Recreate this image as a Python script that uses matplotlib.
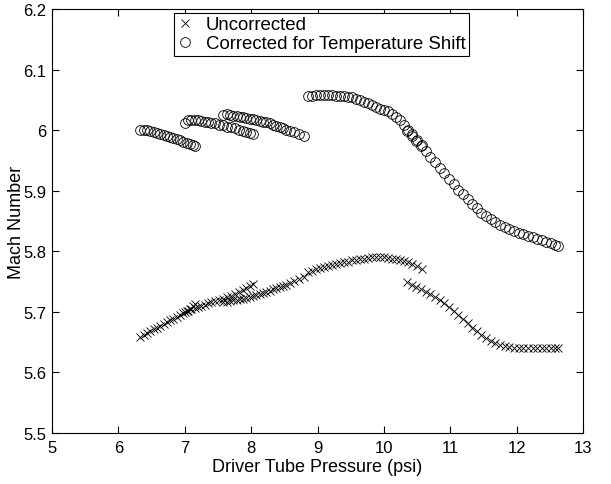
import numpy as np
import matplotlib.pyplot as plt

plt.rcParams['font.family'] = ['Liberation Sans', 'DejaVu Sans']

# run A
xa = [6.33, 6.38, 6.43, 6.48, 6.53, 6.58, 6.63, 6.68, 6.73, 6.78, 6.83, 6.88,
      6.93, 6.98, 7.03, 7.08, 7.12, 7.16]
unc_a = [5.659, 5.662, 5.665, 5.668, 5.671, 5.674, 5.677, 5.680, 5.683, 5.686,
         5.689, 5.692, 5.695, 5.698, 5.702, 5.705, 5.709, 5.713]
cor_a = [6.001, 6.001, 6.000, 5.999, 5.997, 5.996, 5.994, 5.992, 5.991, 5.989,
         5.987, 5.985, 5.983, 5.981, 5.979, 5.977, 5.975, 5.974]

# run B
xb = [7.00, 7.05, 7.10, 7.15, 7.20, 7.25, 7.30, 7.35, 7.40, 7.46, 7.52, 7.58,
      7.64, 7.70, 7.76, 7.82, 7.88, 7.93, 7.98, 8.03]
unc_b = [5.700, 5.702, 5.704, 5.706, 5.708, 5.710, 5.712, 5.714, 5.716, 5.718,
         5.720, 5.722, 5.724, 5.727, 5.730, 5.733, 5.736, 5.739, 5.742, 5.746]
cor_b = [6.012, 6.016, 6.017, 6.017, 6.016, 6.015, 6.014, 6.013, 6.012, 6.011,
         6.009, 6.008, 6.006, 6.005, 6.003, 6.001, 5.999, 5.997, 5.995, 5.993]

# run C
xc = [7.58, 7.63, 7.68, 7.73, 7.78, 7.83, 7.88, 7.93, 7.98, 8.03, 8.08, 8.13,
      8.18, 8.23, 8.28, 8.33, 8.38, 8.43, 8.48, 8.53, 8.59, 8.65, 8.72, 8.80]
unc_c = [5.716, 5.717, 5.718, 5.719, 5.720, 5.721, 5.722, 5.723, 5.724, 5.726,
         5.728, 5.729, 5.731, 5.733, 5.735, 5.737, 5.739, 5.741, 5.743, 5.745,
         5.748, 5.751, 5.754, 5.757]
cor_c = [6.025, 6.026, 6.025, 6.024, 6.023, 6.022, 6.021, 6.020, 6.019, 6.018,
         6.017, 6.015, 6.014, 6.013, 6.011, 6.009, 6.007, 6.005, 6.003, 6.001,
         5.999, 5.997, 5.994, 5.991]

# run D, first part
xd1 = [8.86, 8.92, 8.98, 9.04, 9.10, 9.16, 9.22, 9.28, 9.34, 9.40, 9.46, 9.52,
       9.58, 9.64, 9.70, 9.76, 9.82, 9.88, 9.94, 10.00, 10.06, 10.12, 10.18,
       10.24, 10.30, 10.36, 10.43, 10.50, 10.57]
unc_d1 = [5.766, 5.768, 5.770, 5.772, 5.774, 5.776, 5.777, 5.779, 5.780, 5.782,
          5.783, 5.785, 5.786, 5.787, 5.788, 5.789, 5.790, 5.790, 5.790, 5.790,
          5.789, 5.788, 5.787, 5.786, 5.784, 5.782, 5.779, 5.775, 5.770]
cor_d1 = [6.057, 6.057, 6.058, 6.058, 6.058, 6.058, 6.058, 6.057, 6.057, 6.056,
          6.055, 6.054, 6.052, 6.050, 6.047, 6.044, 6.041, 6.038, 6.035, 6.033,
          6.031, 6.027, 6.022, 6.016, 6.009, 6.001, 5.993, 5.984, 5.975]

# run D, second part
xd2 = [10.35, 10.42, 10.49, 10.56, 10.63, 10.70, 10.77, 10.84, 10.91, 10.98,
       11.05, 11.12, 11.19, 11.26, 11.33, 11.40, 11.47, 11.54, 11.61, 11.68,
       11.75, 11.82, 11.89, 11.96, 12.03, 12.10, 12.17, 12.24, 12.31, 12.38,
       12.45, 12.52, 12.58, 12.63]
unc_d2 = [5.749, 5.745, 5.741, 5.737, 5.733, 5.729, 5.725, 5.720, 5.714, 5.708,
          5.702, 5.695, 5.688, 5.681, 5.674, 5.668, 5.662, 5.657, 5.652, 5.648,
          5.645, 5.643, 5.642, 5.641, 5.641, 5.640, 5.641, 5.641, 5.640, 5.641,
          5.641, 5.640, 5.641, 5.641]
cor_d2 = [5.999, 5.991, 5.982, 5.974, 5.965, 5.956, 5.947, 5.938, 5.929, 5.920,
          5.911, 5.902, 5.894, 5.886, 5.878, 5.871, 5.864, 5.858, 5.853, 5.848,
          5.844, 5.840, 5.837, 5.834, 5.831, 5.829, 5.826, 5.824, 5.821, 5.819,
          5.816, 5.813, 5.811, 5.809]

runs_x = [xa, xb, xc, xd1, xd2]
runs_unc = [unc_a, unc_b, unc_c, unc_d1, unc_d2]
runs_cor = [cor_a, cor_b, cor_c, cor_d1, cor_d2]

x_all = np.concatenate(runs_x)
unc_all = np.concatenate(runs_unc)
cor_all = np.concatenate(runs_cor)

fig = plt.figure(figsize=(6.11, 4.85), dpi=100)
ax = fig.add_axes([52 / 611, 1 - 434 / 485, 531 / 611, 424 / 485])

ax.plot(x_all, unc_all, 'x', color='k', markersize=5.5, markeredgewidth=0.6,
        label='Uncorrected')
ax.plot(x_all, cor_all, 'o', color='k', markerfacecolor='none', markersize=7,
        markeredgewidth=0.6, label='Corrected for Temperature Shift')

ax.set_xlim(5, 13)
ax.set_ylim(5.5, 6.2)
ax.set_xticks(np.arange(5, 14, 1))
ax.set_yticks(np.arange(5.5, 6.21, 0.1))
ax.set_yticklabels(['5.5', '5.6', '5.7', '5.8', '5.9', '6', '6.1', '6.2'])
ax.tick_params(direction='in', top=True, right=True, labelsize=12, length=5)
ax.tick_params(axis='x', pad=5)
ax.tick_params(axis='y', pad=4)
ax.set_xlabel('Driver Tube Pressure (psi)', fontsize=13, labelpad=2)
ax.set_ylabel('Mach Number', fontsize=13, labelpad=-1)

leg = ax.legend(loc='upper center', fontsize=13.4, fancybox=False,
                edgecolor='k', framealpha=1, borderpad=0.2, labelspacing=0.1,
                handlelength=0.8, handletextpad=0.7, borderaxespad=0.2,
                bbox_to_anchor=(0.508, 1))
leg.get_frame().set_linewidth(0.8)

fig.savefig('out.png', dpi=100)
